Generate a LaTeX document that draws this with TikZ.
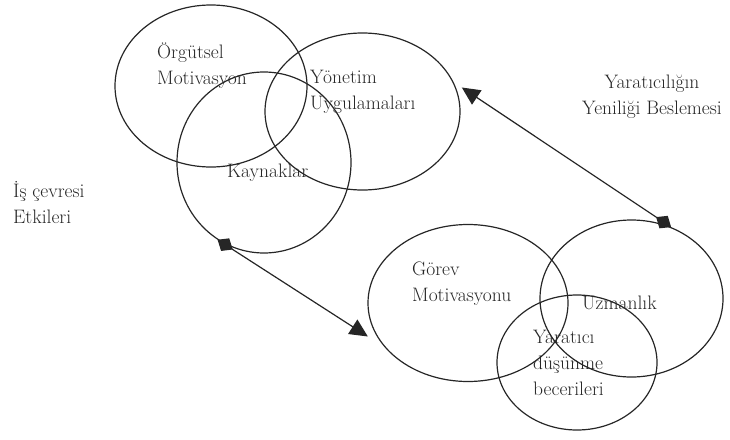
\documentclass[tikz,border=0pt]{standalone}
\usepackage{tikz}
\usetikzlibrary{shapes.geometric,arrows.meta}

\begin{document}
\begin{tikzpicture}[x=1pt,y=-1pt,
 halka/.style={draw=black!85,line width=1.2pt,ellipse,inner sep=0pt},
 yazi/.style={inner sep=0pt,text=black!85,font=\fontsize{19.5}{26}\selectfont,align=left,anchor=west},
 ok/.style={{Diamond[length=18pt,width=15pt]}-{Triangle[length=18pt,width=17pt]},line width=1.2pt,draw=black!85}]
 \useasboundingbox (0,0) rectangle (730,439);
 \node[halka,minimum width=192pt,minimum height=162pt] (e_org) at (211,86) {};
 \node[halka,minimum width=195pt,minimum height=157pt] (e_yon) at (362.5,111.5) {};
 \node[halka,minimum width=174pt,minimum height=181pt] (e_kay) at (264,162.5) {};
 \node[halka,minimum width=200pt,minimum height=157pt] (e_gor) at (468,303) {};
 \node[halka,minimum width=183pt,minimum height=157pt] (e_uzm) at (631.5,298.5) {};
 \node[halka,minimum width=160pt,minimum height=135pt] (e_dus) at (577,362.5) {};

 \node[yazi] (t_org) at (157,66) {Örgütsel\\Motivasyon};
 \node[yazi] (t_yon) at (310,91.5) {Yönetim\\Uygulamaları};
 \node[yazi] (t_kay) at (227,173) {Kaynaklar};
 \node[yazi] (t_is) at (13,202.5) {İş çevresi\\Etkileri};
 \node[yazi,align=center,anchor=center] (t_yar) at (652,96.5) {Yaratıcılığın\\Yeniliği Beslemesi};
 \node[yazi] (t_gor) at (412,283.5) {Görev\\Motivasyonu};
 \node[yazi] (t_uzm) at (582,303) {Uzmanlık};
 \node[yazi] (t_dus) at (533,363) {Yaratıcı\\düşünme\\becerileri};

 \path
 (e_kay.239) edge[ok,shorten >=20pt] (e_gor.208)
 (e_uzm.61) edge[ok,shorten >=10pt] (e_yon.18);
\end{tikzpicture}
\end{document}
